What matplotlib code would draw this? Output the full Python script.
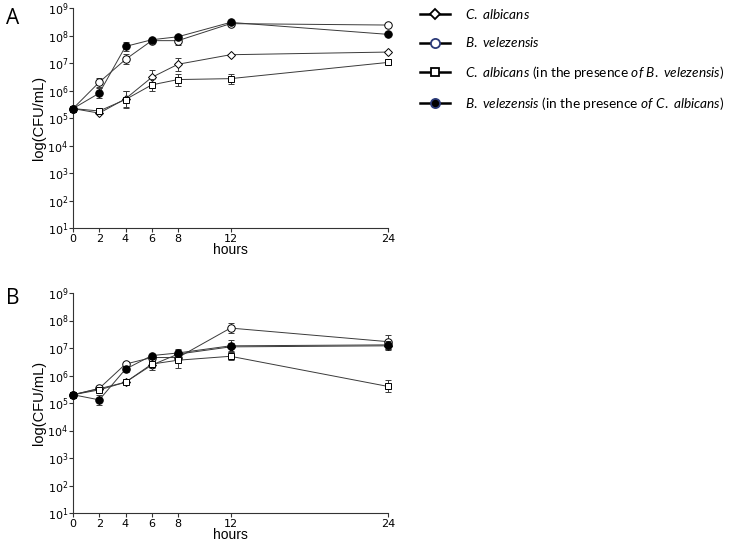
import numpy as np
import matplotlib
matplotlib.use("Agg")
import matplotlib.pyplot as plt
from matplotlib.lines import Line2D
from matplotlib.ticker import LogLocator, NullLocator

hours = [0, 2, 4, 6, 8, 12, 24]

# panel A: CFU/mL means, error half-widths in log10 units
a_ca = [2.2e5, 1.5e5, 5.0e5, 3.0e6, 9.0e6, 2.0e7, 2.5e7]
a_bv = [2.2e5, 2.0e6, 1.35e7, 6.5e7, 6.5e7, 2.7e8, 2.4e8]
a_ca_co = [2.2e5, 1.8e5, 4.7e5, 1.6e6, 2.5e6, 2.7e6, 1.05e7]
a_bv_co = [2.2e5, 8.0e5, 4.0e7, 7.0e7, 9.0e7, 3.0e8, 1.1e8]
a_ca_err = [0, 0.03, 0.30, 0.26, 0.24, 0.0, 0.0]
a_bv_err = [0, 0.17, 0.18, 0.04, 0.17, 0.03, 0.0]
a_ca_co_err = [0, 0.03, 0.30, 0.23, 0.22, 0.18, 0.0]
a_bv_co_err = [0, 0.18, 0.16, 0.05, 0.05, 0.03, 0.0]

# panel B
b_ca = [2.0e5, 3.3e5, 5.7e5, 2.4e6, 6.0e6, 1.1e7, 1.2e7]
b_bv = [2.0e5, 3.4e5, 2.6e6, 4.5e6, 4.5e6, 5.3e7, 1.7e7]
b_ca_co = [2.0e5, 3.0e5, 5.7e5, 2.6e6, 3.6e6, 5.0e6, 4.0e5]
b_bv_co = [2.0e5, 1.3e5, 1.7e6, 5.3e6, 6.6e6, 1.2e7, 1.3e7]
b_ca_err = [0, 0.05, 0.05, 0.1, 0.2, 0.15, 0.15]
b_bv_err = [0, 0.05, 0.05, 0.08, 0.1, 0.19, 0.25]
b_ca_co_err = [0, 0.06, 0.06, 0.2, 0.28, 0.15, 0.22]
b_bv_co_err = [0, 0.18, 0.1, 0.06, 0.1, 0.22, 0.15]

legend_labels = [r"$\it{C.\ albicans}$", r"$\it{B.\ velezensis}$",
                 r"$\it{C.\ albicans}$ (in the presence $\it{of\ B.\ velezensis}$)",
                 r"$\it{B.\ velezensis}$ (in the presence $\it{of\ C.\ albicans}$)"]

markers = ["D", "o", "s", "o"]
msizes = [3.8, 5.4, 5.0, 5.4]
faces = ["white", "white", "white", "black"]
legend_edges = ["black", "#2b3a78", "black", "#2b3a78"]

plt.rcParams["mathtext.fontset"] = "custom"
plt.rcParams["mathtext.it"] = "Lato:italic"
plt.rcParams["mathtext.rm"] = "Lato"

W, H = 733, 546
fig = plt.figure(figsize=(W / 100, H / 100), dpi=100)
left, right = 73 / W, 388 / W
axA = fig.add_axes([left, 1 - 228 / H, right - left, 220 / H])
axB = fig.add_axes([left, 1 - 513 / H, right - left, 220 / H])


def draw(ax, series, errs):
    for k, (y, e) in enumerate(zip(series, errs)):
        y = np.array(y)
        e = np.array(e)
        lo = y - y / 10 ** e
        hi = y * 10 ** e - y
        ax.errorbar(hours, y, yerr=[lo, hi], color="#3a3a3a", lw=0.7,
                    marker=markers[k], ms=msizes[k], mfc=faces[k], mec="black",
                    mew=0.7, capsize=2.5, elinewidth=0.7, capthick=0.7,
                    clip_on=False, zorder=3 + k)
    ax.set_yscale("log")
    ax.set_ylim(1e1, 1e9)
    ax.set_xlim(0, 24)
    ax.yaxis.set_major_locator(LogLocator(base=10, numticks=12))
    ax.yaxis.set_minor_locator(NullLocator())
    ax.set_xticks(hours)
    ax.spines[["top", "right"]].set_visible(False)
    for s in ["left", "bottom"]:
        ax.spines[s].set_linewidth(0.8)
        ax.spines[s].set_color("#333333")
    ax.tick_params(labelsize=8, length=3, width=0.8, color="#333333", pad=1.5)
    ax.tick_params(axis="y", pad=0.5)
    ax.set_xlabel("hours", fontsize=10, family="Liberation Sans", labelpad=-1)
    ax.set_ylabel("log(CFU/mL)", fontsize=10.5, family="Liberation Sans", labelpad=1)


draw(axA, [a_ca, a_bv, a_ca_co, a_bv_co], [a_ca_err, a_bv_err, a_ca_co_err, a_bv_co_err])
draw(axB, [b_ca, b_bv, b_ca_co, b_bv_co], [b_ca_err, b_bv_err, b_ca_co_err, b_bv_co_err])

fig.text(6 / W, 1 - 18 / H, "A", fontsize=15, family="Open Sans", va="center", ha="left")
fig.text(6 / W, 1 - 298 / H, "B", fontsize=15, family="Open Sans", va="center", ha="left")

handles = [Line2D([], [], color="black", lw=1.8, marker=markers[k], ms=msizes[k] + 1.2,
                  mfc=faces[k], mec=legend_edges[k], mew=1.3) for k in range(4)]
fig.legend(handles, legend_labels, loc="upper left", bbox_to_anchor=(420 / W, 1 - 7 / H),
           frameon=False, borderpad=0, borderaxespad=0, handlelength=2.2,
           handletextpad=1.1, labelspacing=1.05, prop={"family": "Lato", "size": 9.8})

fig.savefig("out.png", dpi=100)
